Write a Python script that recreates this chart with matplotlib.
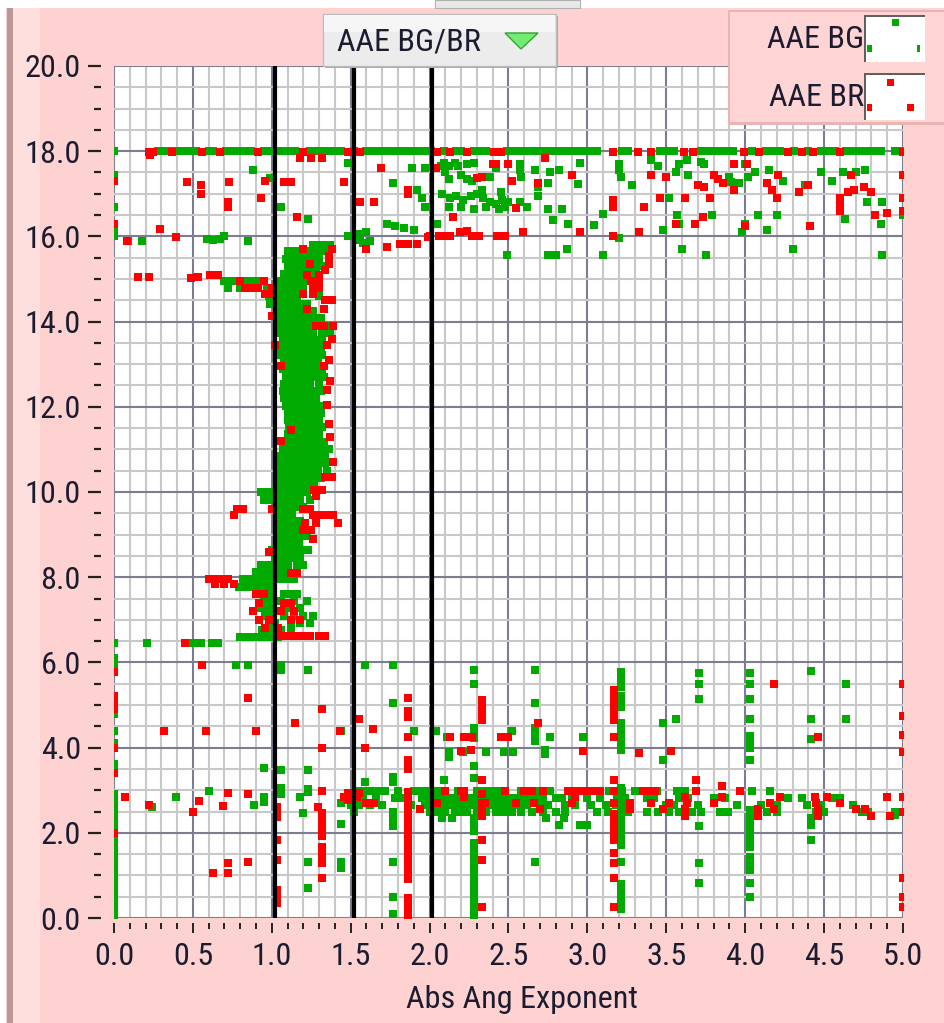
import matplotlib
matplotlib.use("Agg")
from matplotlib import pyplot as plt
from matplotlib import font_manager as fm
from matplotlib.patches import Rectangle, Polygon
from matplotlib.ticker import MultipleLocator
import numpy as np

# ---------------- data ----------------
x_ticks = [0.0, 0.5, 1.0, 1.5, 2.0, 2.5, 3.0, 3.5, 4.0, 4.5, 5.0]
y_ticks = [0.0, 2.0, 4.0, 6.0, 8.0, 10.0, 12.0, 14.0, 16.0, 18.0, 20.0]
ref_lines = [1.02, 1.52, 2.015]

# points sitting on the 18.0 line
bg_line18 = [0.00, 0.28, 0.32, 0.36, 0.40, 0.44, 0.48, 0.52, 0.60, 0.63, 0.71, 0.75,
             0.79, 0.83, 0.87, 0.95, 0.99, 1.03, 1.07, 1.11, 1.15, 1.24, 1.28, 1.32,
             1.36, 1.40, 1.44, 1.52, 1.60, 1.64, 1.68, 1.73, 1.77, 1.81, 1.85, 1.89,
             1.93, 1.97, 2.01, 2.09, 2.17, 2.20, 2.28, 2.32, 2.36, 2.49, 2.53, 2.57,
             2.61, 2.65, 2.69, 2.73, 2.77, 2.81, 2.85, 2.89, 2.93, 2.97, 3.01, 3.06,
             3.22, 3.26, 3.46, 3.50, 3.55, 3.72, 3.76, 3.80, 3.84, 3.88, 3.92, 4.04,
             4.13, 4.18, 4.22, 4.31, 4.40, 4.48, 4.53, 4.57, 4.64, 4.68, 4.72, 4.77,
             4.82, 4.86, 4.95, 4.98]
br_line18 = [0.22, 0.25, 0.37, 0.56, 0.67, 0.91, 1.20, 1.48, 1.56, 2.05, 2.13, 2.24,
             2.41, 2.45, 3.16, 3.32, 3.40, 3.61, 3.67, 3.99, 4.09, 4.27, 4.36, 4.43,
             4.60, 5.00]

# scattered points between 15.5 and 18
bg_top_x = [0.88, 0.99, 1.06, 1.23, 1.48, 1.77, 1.89, 1.97, 1.92, 1.95, 1.97, 1.56, 1.60,
            1.62, 1.58, 1.56, 1.73, 1.78, 1.84, 1.90, 0.59, 0.63, 0.67, 0.09, 0.18, 0.85,
            1.48, 2.05, 2.07, 2.12, 2.18, 2.24, 2.09, 2.16, 2.28, 2.10, 2.12, 2.20, 2.24,
            2.27, 2.38, 2.42, 2.57, 2.57, 2.58, 2.67, 2.76, 2.82, 2.95, 2.75, 2.69, 2.69,
            2.94, 2.08, 2.13, 2.17, 2.21, 2.26, 2.30, 2.34, 2.38, 2.42, 2.46, 2.50, 2.12,
            2.20, 2.28, 2.36, 2.44, 2.48, 2.33, 2.45, 2.57, 2.62, 2.75, 2.84, 2.78, 2.88,
            3.04, 3.10, 3.20, 3.20, 3.21, 3.28, 3.40, 3.45, 3.56, 3.58, 3.63, 3.72, 3.74,
            3.64, 3.52, 3.57, 3.58, 3.79, 3.48, 3.90, 3.91, 3.96, 4.00, 4.06, 4.02, 4.15,
            4.24, 4.08, 4.00, 3.98, 4.14, 4.20, 4.38, 4.48, 4.55, 4.62, 4.70, 4.76, 4.77,
            4.63, 4.87, 4.86, 5.00, 2.49, 2.75, 2.80, 2.87, 3.10, 3.60, 3.75, 4.30, 4.87,
            3.20, 0.70, 0.55, 0.62, 0.66]
bg_top_y = [17.56, 17.37, 16.70, 16.40, 17.72, 17.25, 17.60, 17.60, 17.09, 16.90, 16.70,
            16.05, 16.10, 15.90, 15.85, 15.92, 16.30, 16.25, 16.20, 16.15, 15.95, 15.92,
            15.95, 15.90, 15.90, 15.90, 16.00, 16.30, 17.65, 17.65, 17.65, 17.70, 17.72,
            17.72, 17.72, 17.50, 17.35, 17.45, 17.35, 17.30, 17.40, 17.60, 17.70, 17.55,
            17.40, 17.55, 17.50, 17.55, 17.72, 17.25, 17.15, 16.95, 17.23, 17.00, 16.90,
            16.95, 16.85, 16.95, 17.00, 16.90, 16.80, 16.75, 16.85, 16.80, 16.70, 16.70,
            16.65, 16.70, 16.65, 16.70, 17.10, 17.05, 16.80, 16.70, 16.65, 16.65, 16.38,
            16.30, 16.26, 16.52, 17.70, 17.55, 17.40, 17.20, 17.80, 17.65, 17.50, 17.70,
            17.80, 17.75, 17.70, 17.45, 16.90, 16.50, 16.30, 16.50, 16.15, 17.40, 17.28,
            17.25, 17.70, 17.50, 17.40, 17.55, 17.30, 16.50, 16.30, 16.10, 16.15, 16.50,
            17.20, 17.50, 17.30, 17.50, 17.50, 17.55, 16.80, 16.40, 16.80, 16.30, 16.50,
            15.56, 15.56, 15.56, 15.70, 15.56, 15.70, 15.56, 15.70, 15.56, 15.96, 16.00,
            6.45, 6.45, 6.45]
br_top_x = [0.46, 0.55, 0.55, 0.73, 0.72, 0.72, 0.93, 0.96, 1.08, 1.12, 1.46, 1.16, 0.29,
            0.39, 1.69, 1.56, 1.65, 1.86, 1.86, 1.73, 1.81, 1.86, 1.92, 1.99, 2.06, 2.13,
            2.19, 2.27, 2.43, 2.40, 2.30, 2.50, 0.08, 1.60, 2.04, 2.15, 2.00, 2.10, 2.24,
            2.31, 2.48, 2.33, 2.42, 2.52, 2.55, 2.59, 2.69, 2.73, 2.90, 2.95, 3.16, 3.16,
            3.16, 3.33, 3.36, 3.40, 3.46, 3.50, 3.56, 3.62, 3.68, 3.70, 3.74, 3.80, 3.83,
            3.86, 3.78, 3.73, 3.93, 3.93, 4.00, 4.01, 4.14, 4.17, 4.20, 4.21, 4.34, 4.40,
            4.41, 4.60, 4.60, 4.60, 4.65, 4.69, 4.75, 4.80, 4.82, 4.90, 4.67, 1.18, 1.25,
            1.32, 0.23, 0.15, 0.22, 0.45, 0.49, 0.53]
br_top_y = [17.28, 17.20, 17.00, 17.28, 16.80, 16.70, 16.90, 17.30, 17.28, 17.28, 17.28,
            16.46, 16.17, 15.98, 17.60, 16.80, 16.80, 17.10, 17.00, 15.76, 15.82, 15.82,
            15.82, 15.98, 16.00, 16.00, 16.10, 16.00, 16.00, 17.70, 17.38, 17.70, 15.90,
            15.70, 17.60, 16.46, 16.00, 16.00, 16.13, 16.00, 16.00, 17.40, 17.70, 17.30,
            16.67, 16.10, 17.25, 17.85, 17.44, 16.10, 16.00, 16.85, 16.70, 16.10, 16.70,
            17.45, 16.90, 17.40, 16.30, 16.90, 16.30, 17.20, 17.15, 17.45, 17.35, 17.25,
            16.90, 16.45, 17.70, 17.10, 16.25, 17.70, 17.25, 17.10, 16.90, 17.45, 17.05,
            17.20, 16.25, 16.90, 16.75, 16.60, 17.05, 17.10, 17.15, 17.05, 16.50, 16.55,
            17.45, 17.85, 17.85, 17.85, 17.90, 15.05, 15.05, 6.45, 15.02, 15.05]

# the dense column (y level: x values)
bg_col_rows = [
    (15.80, [1.26, 1.30, 1.34, 1.37]),
    (15.65, [1.10, 1.14, 1.18, 1.22, 1.26, 1.30, 1.34]),
    (15.48, [1.09, 1.13, 1.17, 1.21, 1.25, 1.30]),
    (15.30, [1.10, 1.14, 1.18, 1.22, 1.27, 1.32]),
    (15.12, [1.08, 1.12, 1.16, 1.20, 1.24, 1.28]),
    (14.95, [0.70, 0.74, 0.78, 0.85, 0.89, 0.93, 1.05, 1.09, 1.13, 1.17, 1.21]),
    (14.78, [0.72, 0.80, 0.84, 0.88, 0.97, 1.04, 1.08, 1.12, 1.16, 1.20]),
    (14.60, [0.98, 1.04, 1.08, 1.12, 1.16, 1.30]),
    (14.42, [0.99, 1.06, 1.10, 1.14, 1.18, 1.22]),
    (14.25, [1.05, 1.09, 1.13, 1.17, 1.21, 1.26]),
    (14.08, [1.06, 1.10, 1.14, 1.18, 1.22, 1.27, 1.31]),
    (13.90, [1.06, 1.10, 1.14, 1.18, 1.22, 1.26, 1.30, 1.36]),
    (13.73, [1.06, 1.10, 1.14, 1.18, 1.22, 1.26, 1.32, 1.37]),
    (13.56, [1.07, 1.11, 1.15, 1.19, 1.23, 1.27, 1.32]),
    (13.39, [1.06, 1.10, 1.14, 1.18, 1.22, 1.26, 1.31]),
    (13.22, [1.06, 1.10, 1.14, 1.18, 1.22, 1.27, 1.32]),
    (13.05, [1.08, 1.12, 1.16, 1.20, 1.24, 1.29]),
    (12.88, [1.07, 1.11, 1.15, 1.19, 1.23, 1.28, 1.32]),
    (12.71, [1.09, 1.13, 1.17, 1.21, 1.25, 1.29, 1.33]),
    (12.54, [1.08, 1.12, 1.16, 1.20, 1.24, 1.30]),
    (12.37, [1.07, 1.11, 1.15, 1.19, 1.23, 1.27, 1.31]),
    (12.20, [1.08, 1.12, 1.16, 1.20, 1.24, 1.28]),
    (12.03, [1.09, 1.13, 1.17, 1.21, 1.25, 1.30]),
    (11.86, [1.10, 1.14, 1.18, 1.22, 1.26, 1.31]),
    (11.69, [1.10, 1.14, 1.18, 1.22, 1.26, 1.30]),
    (11.52, [1.11, 1.15, 1.19, 1.23, 1.27, 1.32]),
    (11.35, [1.10, 1.14, 1.18, 1.22, 1.26, 1.30]),
    (11.18, [1.09, 1.13, 1.17, 1.21, 1.25, 1.29, 1.33]),
    (11.01, [1.07, 1.11, 1.15, 1.19, 1.23, 1.27, 1.31, 1.36]),
    (10.84, [1.06, 1.10, 1.14, 1.18, 1.22, 1.26, 1.30, 1.34]),
    (10.67, [1.05, 1.09, 1.13, 1.17, 1.21, 1.25, 1.29, 1.34]),
    (10.50, [1.05, 1.09, 1.13, 1.17, 1.21, 1.25, 1.29, 1.35]),
    (10.33, [1.06, 1.10, 1.14, 1.18, 1.22, 1.26, 1.31]),
    (10.16, [1.03, 1.07, 1.11, 1.15, 1.19, 1.23, 1.27]),
    (9.99, [0.93, 0.98, 1.06, 1.10, 1.14, 1.18, 1.22]),
    (9.82, [0.95, 1.00, 1.06, 1.10, 1.14, 1.18, 1.24]),
    (9.65, [1.04, 1.08, 1.12, 1.16, 1.20]),
    (9.48, [1.05, 1.09, 1.13]),
    (9.31, [1.06, 1.10, 1.14, 1.18]),
    (9.14, [1.05, 1.09, 1.13, 1.17]),
    (8.97, [1.06, 1.10, 1.14, 1.18, 1.22]),
    (8.80, [1.05, 1.09, 1.13, 1.17]),
    (8.63, [1.00, 1.06, 1.10, 1.14, 1.18, 1.23]),
    (8.46, [1.02, 1.06, 1.10, 1.14, 1.18]),
    (8.29, [0.93, 0.97, 1.01, 1.06, 1.10, 1.16, 1.20]),
    (8.12, [0.90, 0.94, 0.98, 1.06, 1.10]),
    (7.95, [0.82, 0.86, 0.90, 0.94, 0.98, 1.06, 1.10, 1.14]),
    (7.78, [0.79, 0.83, 0.87, 0.91, 0.95, 0.99]),
    (7.61, [0.92, 0.96, 1.00, 1.08, 1.12, 1.16]),
    (7.44, [0.95, 0.99, 1.06, 1.14, 1.22]),
    (7.27, [0.93, 0.97, 1.01, 1.10, 1.18]),
    (7.10, [0.96, 1.00, 1.08, 1.14, 1.20, 1.26]),
    (6.93, [0.98, 1.02, 1.12, 1.18, 1.24]),
    (6.76, [0.94, 0.98, 1.02, 1.06, 1.12]),
    (6.59, [0.80, 0.84, 0.88, 0.92, 0.96, 1.00, 1.04]),
]
br_col_rows = [
    (15.70, [1.20, 1.38]),
    (15.55, [1.36]),
    (15.35, [1.24, 1.36]),
    (15.20, [1.34]),
    (15.10, [0.61, 0.66, 1.22, 1.30]),
    (14.95, [0.80, 0.95, 1.25, 1.30]),
    (14.80, [0.83, 0.87, 0.91, 1.00, 1.26, 1.30]),
    (14.65, [0.96, 1.00, 1.20, 1.26]),
    (14.50, [1.34, 1.38]),
    (14.30, [1.22, 1.33]),
    (14.12, [1.00]),
    (13.90, [1.28, 1.33, 1.39]),
    (13.60, [1.38]),
    (13.45, [1.02, 1.35]),
    (13.10, [1.36]),
    (12.95, [1.06, 1.33]),
    (12.60, [1.37]),
    (12.40, [1.35]),
    (12.05, [1.35]),
    (11.60, [1.36]),
    (11.45, [1.12]),
    (11.30, [1.37]),
    (11.20, [1.06]),
    (10.70, [1.39]),
    (10.35, [1.34, 1.38]),
    (10.05, [1.27, 1.32]),
    (9.90, [1.28]),
    (9.60, [0.78, 0.82, 1.00, 1.20, 1.24]),
    (9.45, [0.76, 1.26, 1.30, 1.34, 1.39]),
    (9.28, [1.21, 1.28, 1.42]),
    (9.10, [1.20, 1.25]),
    (8.90, [1.26]),
    (8.60, [0.98]),
    (8.10, [1.12, 1.16]),
    (7.95, [0.60, 0.64, 0.68, 0.72]),
    (7.85, [0.64, 0.70, 0.76]),
    (7.60, [0.90, 0.95]),
    (7.40, [0.92, 1.08, 1.12]),
    (7.20, [0.88, 1.06, 1.14]),
    (7.00, [0.92, 0.98, 1.12, 1.18]),
    (6.80, [0.96, 1.04]),
    (6.62, [1.05, 1.09, 1.14, 1.19, 1.24, 1.30, 1.34]),
]

# the band between 2.4 and 3.0
bg_band_rows = [
    (2.97, [1.55, 1.60, 1.64, 1.68, 1.72, 1.80, 1.90, 1.94, 1.98, 2.02, 2.06, 2.10, 2.18,
            2.22, 2.30, 2.35, 2.40, 2.44, 2.48, 2.58, 2.62, 2.70, 2.76, 3.14, 3.22, 3.30,
            3.44, 3.57, 3.62, 4.04, 4.16]),
    (2.82, [1.52, 1.58, 1.66, 1.78, 1.82, 1.95, 2.00, 2.04, 2.08, 2.12, 2.16, 2.20, 2.25,
            2.29, 2.33, 2.38, 2.42, 2.46, 2.50, 2.54, 2.59, 2.64, 2.68, 2.72, 2.80, 2.84,
            2.90, 3.00, 3.08, 3.19, 3.24, 3.38, 3.42, 3.58, 3.64, 3.80, 3.87, 4.27, 4.36,
            4.55, 4.60]),
    (2.66, [1.50, 1.55, 1.62, 1.70, 1.88, 1.97, 2.02, 2.06, 2.10, 2.14, 2.18, 2.23, 2.27,
            2.31, 2.36, 2.40, 2.44, 2.48, 2.53, 2.57, 2.62, 2.70, 2.75, 2.86, 2.92, 3.02,
            3.12, 3.18, 3.26, 3.50, 3.55, 3.70, 3.95, 4.10, 4.20, 4.39, 4.48, 4.68]),
    (2.50, [1.52, 1.77, 2.00, 2.05, 2.10, 2.16, 2.20, 2.24, 2.30, 2.36, 2.42, 2.47, 2.52,
            2.58, 2.65, 2.72, 2.80, 2.86, 3.06, 3.13, 3.26, 3.38, 3.45, 3.52, 3.58, 3.66,
            3.72, 3.84, 3.89, 4.08, 4.14, 4.20, 4.45, 4.50, 4.74, 4.78, 4.95]),
    (2.35, [2.08, 2.14, 2.74, 2.85, 4.42]),
]
br_band_rows = [
    (2.97, [2.10, 2.20, 2.48, 2.60, 2.65, 2.72, 2.88, 2.92, 2.96, 3.00, 3.04, 3.08, 3.35,
            3.38, 3.43, 3.69, 3.97]),
    (2.85, [1.46, 1.54, 2.22, 2.92, 3.62, 3.85, 4.22, 4.44, 4.52, 4.90]),
    (2.70, [1.60, 1.65, 2.05, 2.55, 2.66, 2.90, 3.27, 3.40, 3.52, 3.63, 3.80, 4.16, 4.45,
            4.60]),
    (2.55, [1.94, 2.70, 3.48, 3.62, 4.08, 4.18, 4.46, 4.70, 4.76]),
    (2.40, [4.46, 4.80, 4.92]),
]

# vertical runs of points (x: y values)
bg_stripes = {
    0.00: [0.05, 0.20, 0.35, 0.50, 0.65, 0.80, 0.95, 1.10, 1.25, 1.40, 1.55, 1.70, 1.85,
           2.00, 2.15, 2.30, 2.45, 2.60, 2.75, 2.90, 3.50, 3.62, 4.10, 4.40, 4.80, 5.80,
           5.95, 6.10, 6.45, 16.00, 16.15, 16.30, 16.70, 17.30, 17.45],
    2.28: [0.05, 0.20, 0.35, 0.50, 0.62, 0.78, 0.92, 1.05, 1.20, 1.35, 1.50, 1.62, 1.75,
           2.05, 2.20, 2.35, 3.28, 3.56, 4.22, 4.35, 4.45, 5.50, 5.82],
    3.21: [0.20, 0.35, 0.50, 0.66, 0.80, 1.32, 1.72, 1.85, 2.00, 2.15, 2.30, 2.45, 2.60,
           2.75, 2.90, 3.05, 3.95, 4.10, 4.25, 4.40, 4.57, 4.95, 5.10, 5.20, 5.42, 5.55,
           5.68, 5.78],
    4.03: [0.50, 0.81, 1.13, 1.28, 1.44, 1.67, 1.80, 1.95, 2.10, 2.25, 2.40, 2.54, 3.71,
           4.00, 4.15, 4.28, 4.68, 5.15, 5.50, 5.75],
}
br_stripes = {
    0.00: [2.00, 3.40, 4.00, 4.90, 5.05, 5.20, 5.78, 16.30, 17.30],
    1.03: [0.35, 0.50, 0.65, 1.36, 1.83, 2.38, 2.50, 2.60],
    1.32: [0.93, 1.30, 1.42, 1.55, 1.67, 1.92, 2.05, 2.20, 2.35, 2.46, 2.97, 4.00, 4.90],
    1.86: [0.05, 0.18, 0.32, 0.48, 0.92, 1.05, 1.20, 1.35, 1.50, 1.63, 1.78, 1.92, 2.05,
           2.20, 2.35, 2.50, 2.65, 2.80, 2.95, 3.50, 3.62, 3.72, 4.26, 4.72, 4.85, 5.16],
    2.33: [0.26, 1.36, 1.83, 2.40, 2.55, 2.70, 2.90, 3.24, 4.65, 4.75, 4.90, 5.00, 5.12],
    3.17: [0.26, 0.93, 1.28, 1.52, 1.83, 1.95, 2.10, 2.25, 2.43, 3.24, 4.26, 4.65, 4.80,
           4.95, 5.10, 5.22, 5.35],
    5.00: [0.26, 0.50, 0.93, 2.50, 2.85, 3.90, 4.30, 4.75, 5.50, 16.60, 16.90, 17.45],
}

# loose points below 6.5
bg_low_x = [0.21, 0.45, 0.50, 0.55, 0.77, 0.85, 1.06, 1.06, 1.23, 1.59, 1.77, 1.77, 1.44,
            1.90, 2.04, 2.11, 2.12, 2.12, 2.21, 2.36, 2.47, 2.53, 0.95, 1.06, 1.23, 1.77,
            1.77, 1.59, 2.09, 1.06, 1.06, 1.23, 1.23, 0.95, 0.95, 0.60, 0.39, 0.24, 0.89,
            1.18, 1.20, 1.44, 1.44, 1.77, 1.77, 1.77, 1.23, 1.44, 1.44, 1.77, 1.23, 1.77,
            1.77, 2.67, 2.67, 2.67, 2.67, 2.67, 2.52, 2.76, 2.73, 2.73, 2.97, 3.48, 3.56,
            3.48, 3.71, 3.71, 3.71, 4.42, 4.42, 4.42, 4.64, 4.64, 2.67, 3.71, 3.71, 3.71,
            4.42, 4.42, 2.82, 2.95, 3.00, 4.95]
bg_low_y = [6.45, 6.45, 6.45, 6.45, 5.95, 5.95, 5.95, 5.82, 5.82, 5.95, 5.95, 5.04, 4.40,
            4.38, 4.38, 4.26, 3.90, 3.78, 3.90, 3.90, 3.90, 3.90, 3.51, 3.47, 3.47, 3.30,
            3.20, 3.20, 3.24, 3.05, 2.92, 3.02, 2.95, 2.85, 2.72, 2.97, 2.85, 2.61, 2.65,
            2.85, 2.46, 2.70, 2.20, 2.45, 2.30, 2.15, 1.32, 1.32, 1.18, 1.32, 0.70, 0.50,
            0.10, 5.82, 5.04, 4.45, 4.30, 4.15, 4.38, 4.26, 3.95, 3.85, 4.26, 4.57, 4.68,
            3.71, 5.75, 5.50, 5.15, 5.80, 4.68, 4.20, 5.50, 4.68, 1.32, 2.15, 1.28, 0.81,
            2.18, 1.83, 2.18, 2.18, 2.18, 2.42]
br_low_x = [0.56, 0.85, 1.15, 0.32, 0.58, 0.90, 1.43, 1.55, 1.64, 1.59, 2.22, 2.45, 2.20,
            0.07, 0.22, 0.50, 0.54, 0.69, 0.72, 0.85, 0.72, 0.72, 0.63, 0.85, 1.48, 1.48,
            1.55, 1.29, 2.22, 2.13, 2.27, 2.50, 2.69, 2.26, 2.97, 3.33, 3.53, 4.18, 4.46,
            3.69, 3.85, 2.35, 3.17, 3.17, 3.27, 3.62, 4.08]
br_low_y = [5.95, 5.16, 4.57, 4.38, 4.38, 4.38, 4.38, 4.68, 4.43, 4.00, 4.26, 4.26, 3.91,
            2.85, 2.65, 2.48, 2.74, 2.62, 2.93, 2.90, 1.28, 1.05, 1.05, 1.32, 2.93, 2.78,
            2.93, 2.60, 2.97, 4.26, 4.26, 4.26, 4.57, 3.95, 3.91, 3.87, 3.91, 5.50, 4.26,
            3.24, 3.09, 2.70, 2.97, 2.70, 2.55, 2.40, 2.40]


def rows_to_xy(rows):
    xs, ys = [], []
    for y, row in rows:
        xs += row
        ys += [y] * len(row)
    return xs, ys


def stripes_to_xy(stripes):
    xs, ys = [], []
    for x, col in stripes.items():
        xs += [x] * len(col)
        ys += col
    return xs, ys


bg_x, bg_y = [], []
br_x, br_y = [], []
for xs, ys in [(bg_line18, [18.0] * len(bg_line18)), (bg_top_x, bg_top_y),
               rows_to_xy(bg_col_rows), rows_to_xy(bg_band_rows),
               stripes_to_xy(bg_stripes), (bg_low_x, bg_low_y)]:
    bg_x += list(xs)
    bg_y += list(ys)
for xs, ys in [(br_line18, [17.97] * len(br_line18)), (br_top_x, br_top_y),
               rows_to_xy(br_col_rows), rows_to_xy(br_band_rows),
               stripes_to_xy(br_stripes), (br_low_x, br_low_y)]:
    br_x += list(xs)
    br_y += list(ys)

# ---------------- font: a narrow face if there is one ----------------
fonts = fm.fontManager.ttflist
names = {f.name for f in fonts}
if "Liberation Sans Narrow" in names:
    FONT = {"family": "Liberation Sans Narrow"}
elif "Roboto Condensed" in names:
    FONT = {"family": "Roboto Condensed"}
elif any(f.name == "DejaVu Sans" and f.stretch != "normal" for f in fonts):
    FONT = {"family": "DejaVu Sans", "stretch": "condensed"}
elif "Roboto" in names:
    FONT = {"family": "Roboto"}
else:
    FONT = {"family": "Noto Sans"}
TXT = "#1c1c30"
PINK = "#ffd2d2"
GREEN = "#00aa00"
RED = "#ff0000"

W, H = 945, 1023
fig = plt.figure(figsize=(W / 100, H / 100), dpi=100)
fig.patch.set_facecolor(PINK)

# size the text so that the axis title is about as wide as in the picture
probe = fig.text(0, 0, "Abs Ang Exponent", fontsize=20, **FONT)
pw = probe.get_window_extent(fig.canvas.get_renderer()).width
probe.remove()
FS = 20 * 232 / pw


def fx(px):
    return px / W


def fy(py):
    return 1 - py / H


def box(x0, y0, x1, y1, **kw):
    r = Rectangle((fx(x0), fy(y1)), (x1 - x0) / W, (y1 - y0) / H,
                  transform=fig.transFigure, **kw)
    fig.patches.append(r)
    return r


# window decoration behind everything else
box(0, 0, 6, H, facecolor="white", edgecolor="none", zorder=-2)
box(7, 8, 13, H, facecolor="#b89898", edgecolor="none", zorder=-2)
box(13, 8, 40, H, facecolor="#ffdede", edgecolor="none", zorder=-2)

ax = fig.add_axes([fx(114), fy(918), (903 - 114) / W, (918 - 66) / H])
ax.set_facecolor("white")

for s in ax.spines.values():
    s.set_visible(False)
ax.spines["left"].set_position(("outward", 9.4))
ax.spines["bottom"].set_position(("outward", 3.6))

ax.set_xlim(0, 5)
ax.set_ylim(0, 20)
ax.xaxis.set_minor_locator(MultipleLocator(0.1))
ax.yaxis.set_minor_locator(MultipleLocator(0.5))
ax.set_xticks(x_ticks)
ax.set_yticks(y_ticks)
ax.set_xticklabels(["%.1f" % v for v in x_ticks], color=TXT, fontsize=FS, **FONT)
ax.set_yticklabels(["%.1f" % v for v in y_ticks], color=TXT, fontsize=FS, **FONT)
ax.grid(which="minor", color="#c8c8c8", lw=1.5)
ax.grid(which="major", color="#7c7c92", lw=1.5)
ax.set_axisbelow(True)

ax.tick_params(axis="y", which="major", length=9.4, width=1.6, color="#222222", pad=5)
ax.tick_params(axis="y", which="minor", length=5, width=1.6, color="#222222")
ax.tick_params(axis="x", which="major", length=7.5, width=1.4, color="#222222", pad=6)
ax.tick_params(axis="x", which="minor", length=4.3, width=1.4, color="#222222")

ax.scatter(bg_x, bg_y, marker="s", s=32, c=GREEN, linewidths=0, zorder=3)
ax.scatter(br_x, br_y, marker="s", s=32, c=RED, linewidths=0, zorder=4)
for xv in ref_lines:
    ax.axvline(xv, color="black", lw=3, zorder=5)

fig.text(fx(522), fy(1000), "Abs Ang Exponent", ha="center", va="center",
         color=TXT, fontsize=FS, **FONT)

# top edge of the window
box(0, 0, W, 8, facecolor="white", edgecolor="none")
box(435, 0, 580, 8, facecolor="#e8e8e8", edgecolor="#b0b0b0", lw=0.8)

# plot selector button
box(325, 16, 558, 68, facecolor="#a8a8a8", edgecolor="none")
box(323, 14, 556, 66, facecolor="#ececec", edgecolor="#bcbcbc", lw=1)
box(324, 15, 555, 32, facecolor="#f6f6f6", edgecolor="none")
fig.text(fx(337), fy(42), "AAE BG/BR", ha="left", va="center",
         color=TXT, fontsize=FS, **FONT)
fig.patches.append(Polygon([(fx(505), fy(33)), (fx(538), fy(33)), (fx(521), fy(49))],
                           closed=True, transform=fig.transFigure,
                           facecolor="#70ee70", edgecolor="#3ca03c", lw=1))

# legend
box(728, 10, W, 125, facecolor="#e8b4b4", edgecolor="none")
box(730, 12, W, 122, facecolor="#ffd4d4", edgecolor="none")
for name, ytxt, (sy0, sy1), col, dots in [
        ("AAE BG", 40, (15, 62), GREEN, [(892, 19, 7), (867, 45, 5), (917, 45, 3)]),
        ("AAE BR", 97, (73, 120), RED, [(887, 79, 7), (867, 104, 5), (907, 104, 7)])]:
    fig.text(fx(864), fy(ytxt), name, ha="right", va="center",
             color=TXT, fontsize=FS, **FONT)
    box(864, sy0, 925, sy1, facecolor="white", edgecolor="none")
    box(864, sy0, 866, sy1, facecolor="#606060", edgecolor="none")
    box(864, sy0, 925, sy0 + 2, facecolor="#606060", edgecolor="none")
    for dx, dy, dw in dots:
        box(dx, dy, dx + dw, dy + 7, facecolor=col, edgecolor="none")

fig.savefig("out.png", dpi=100, facecolor=fig.get_facecolor())
